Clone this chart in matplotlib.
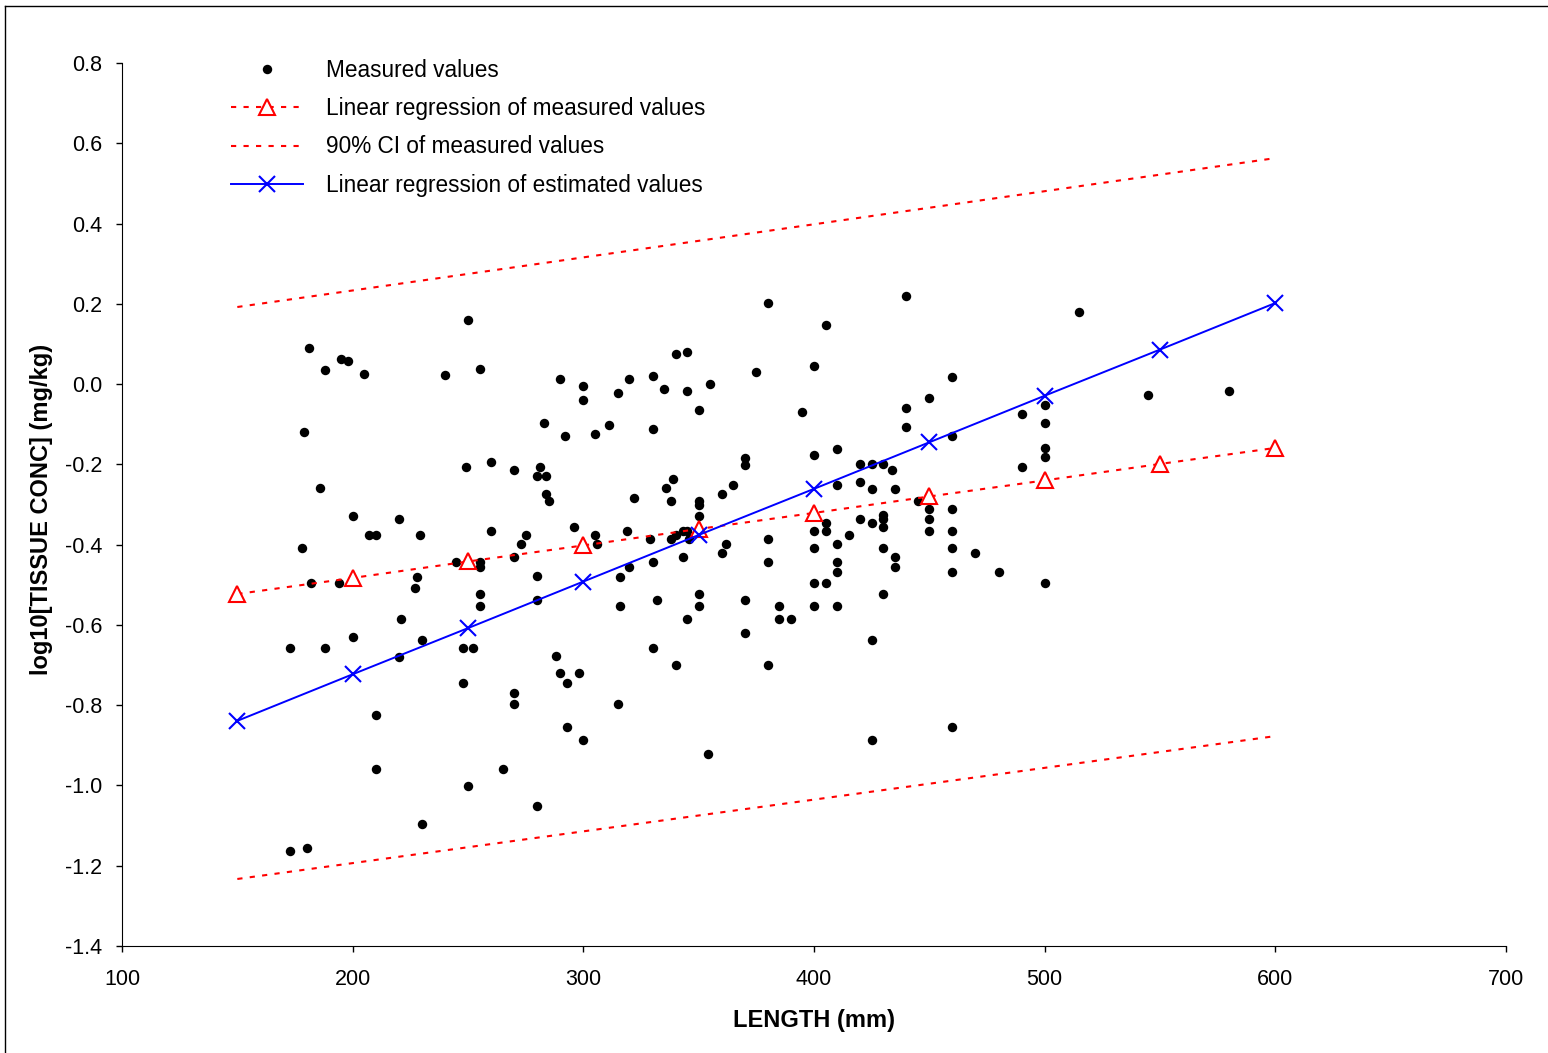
import matplotlib
matplotlib.use("Agg")
import matplotlib.pyplot as plt
from matplotlib.lines import Line2D

plt.rcParams['font.family'] = ['Liberation Sans', 'DejaVu Sans']

# measured values (length in mm, log10 tissue concentration)
length_mm = [
    181, 188, 195, 198, 205, 240, 250, 179, 249, 186, 200, 220, 207, 210, 229,
    178, 245, 228, 182, 194, 227, 221, 173, 188, 200, 230, 220, 248, 252, 248,
    210, 210, 250, 230, 173, 180,
    255, 380, 340, 345, 290, 300, 300, 320, 330, 315, 335, 345, 355, 375, 350,
    283, 292, 305, 311, 330, 260, 270, 281, 280, 284, 284, 285, 339, 336, 338,
    322, 350, 350, 350, 360, 365, 370, 370, 260, 275, 273, 270, 296, 305, 306,
    319, 329, 338, 340, 343, 345, 346, 343, 330, 320, 316, 280, 255, 255, 380,
    380, 360, 362,
    255, 255, 280, 316, 332, 350, 350, 345, 370, 370, 288, 290, 298, 293, 330,
    340, 380, 270, 270, 315, 293, 300, 354, 265, 280,
    440, 405, 400, 395, 440, 440, 450, 460, 460, 400, 410, 420, 425, 430, 434,
    420, 425, 435, 410, 445, 450, 450, 450, 460, 460, 460, 460, 470, 480, 490,
    490, 500, 500, 500, 500, 400, 405, 405, 400, 410, 415, 410, 410, 420, 425,
    430, 430, 430, 430, 435, 435,
    400, 405, 385, 385, 390, 400, 410, 430, 425, 425, 460, 500,
    515, 545, 580,
]
log_conc = [
    0.090, 0.034, 0.062, 0.058, 0.026, 0.022, 0.159, -0.119, -0.207, -0.260,
    -0.328, -0.337, -0.377, -0.377, -0.377, -0.408, -0.444, -0.480, -0.496,
    -0.496, -0.509, -0.585, -0.658, -0.658, -0.629, -0.638, -0.681, -0.658,
    -0.658, -0.745, -0.824, -0.959, -1.001, -1.097, -1.163, -1.157,
    0.038, 0.201, 0.076, 0.080, 0.013, -0.005, -0.040, 0.013, 0.021, -0.022,
    -0.013, -0.017, 0.000, 0.030, -0.065, -0.096, -0.130, -0.124, -0.102,
    -0.113, -0.193, -0.214, -0.207, -0.228, -0.228, -0.275, -0.292, -0.236,
    -0.260, -0.292, -0.285, -0.292, -0.301, -0.328, -0.275, -0.251, -0.185,
    -0.202, -0.365, -0.377, -0.398, -0.432, -0.357, -0.377, -0.398, -0.365,
    -0.387, -0.387, -0.377, -0.365, -0.365, -0.387, -0.432, -0.444, -0.456,
    -0.480, -0.477, -0.443, -0.455, -0.387, -0.444, -0.420, -0.398,
    -0.523, -0.552, -0.537, -0.552, -0.537, -0.523, -0.552, -0.585, -0.537,
    -0.619, -0.678, -0.721, -0.721, -0.745, -0.658, -0.699, -0.699, -0.770,
    -0.796, -0.796, -0.854, -0.887, -0.921, -0.959, -1.051,
    0.220, 0.146, 0.046, -0.070, -0.060, -0.107, -0.035, 0.018, -0.130,
    -0.177, -0.162, -0.200, -0.200, -0.200, -0.215, -0.244, -0.261, -0.261,
    -0.251, -0.292, -0.310, -0.337, -0.365, -0.310, -0.365, -0.408, -0.468,
    -0.420, -0.468, -0.075, -0.207, -0.052, -0.097, -0.160, -0.181, -0.365,
    -0.345, -0.365, -0.408, -0.398, -0.377, -0.444, -0.468, -0.337, -0.347,
    -0.327, -0.337, -0.356, -0.408, -0.432, -0.456,
    -0.496, -0.496, -0.552, -0.585, -0.585, -0.552, -0.552, -0.523, -0.638,
    -0.887, -0.854, -0.496,
    0.180, -0.027, -0.017,
]

reg_x = [150, 200, 250, 300, 350, 400, 450, 500, 550, 600]
reg_measured = [-0.523, -0.483, -0.442, -0.402, -0.361, -0.321, -0.280, -0.240, -0.199, -0.159]
reg_estimated = [-0.839, -0.723, -0.608, -0.492, -0.376, -0.261, -0.145, -0.029, 0.086, 0.202]

ci_x = [150, 600]
ci_upper = [0.192, 0.563]
ci_lower = [-1.233, -0.877]

fig = plt.figure(figsize=(15.48, 10.53), dpi=100)
ax = fig.add_axes([0.0788, 0.1016, 0.8941, 0.8386])

dots = (0, (2.5, 3.5))

ax.plot(length_mm, log_conc, 'o', color='black', ms=6.8, mec='none', zorder=3,
        label='Measured values')
ax.plot(reg_x, reg_measured, color='red', ls=dots, lw=1.5, marker='^', ms=12,
        mfc='white', mec='red', mew=1.5, zorder=4,
        label='Linear regression of measured values')
ax.plot(ci_x, ci_upper, color='red', ls=dots, lw=1.5, zorder=2,
        label='90% CI of measured values')
ax.plot(ci_x, ci_lower, color='red', ls=dots, lw=1.5, zorder=2)
ax.plot(reg_x, reg_estimated, color='blue', ls='-', lw=1.4, marker='x', ms=12,
        mew=1.5, zorder=5, label='Linear regression of estimated values')

ax.set_xlim(100, 700)
ax.set_ylim(-1.4, 0.8)
ax.set_xticks(range(100, 701, 100))
ax.set_yticks([-1.4, -1.2, -1.0, -0.8, -0.6, -0.4, -0.2, 0.0, 0.2, 0.4, 0.6, 0.8])
ax.set_yticklabels(['%.1f' % v for v in ax.get_yticks()])
ax.spines['top'].set_visible(False)
ax.spines['right'].set_visible(False)
ax.tick_params(direction='out', length=4.3, width=1, labelsize=15.5)
ax.tick_params(axis='x', pad=12)
ax.tick_params(axis='y', pad=10)

ax.set_xlabel('LENGTH (mm)', fontsize=17, fontweight='bold')
ax.set_ylabel('log10[TISSUE CONC] (mg/kg)', fontsize=17, fontweight='bold')
ax.xaxis.set_label_coords(0.5, -0.0708)
ax.yaxis.set_label_coords(-0.05, 0.494)

ax.legend(loc='upper left', bbox_to_anchor=(0.064, 1.0277), frameon=False,
          fontsize=16.3, numpoints=1, handlelength=3.2, handletextpad=1.0,
          labelspacing=0.675)

# page border (left and top)
fig.add_artist(Line2D([0.0032, 0.0032], [0, 0.9943], color='black', lw=1))
fig.add_artist(Line2D([0.0032, 1], [0.9943, 0.9943], color='black', lw=1))

fig.savefig('out.png', dpi=100)
